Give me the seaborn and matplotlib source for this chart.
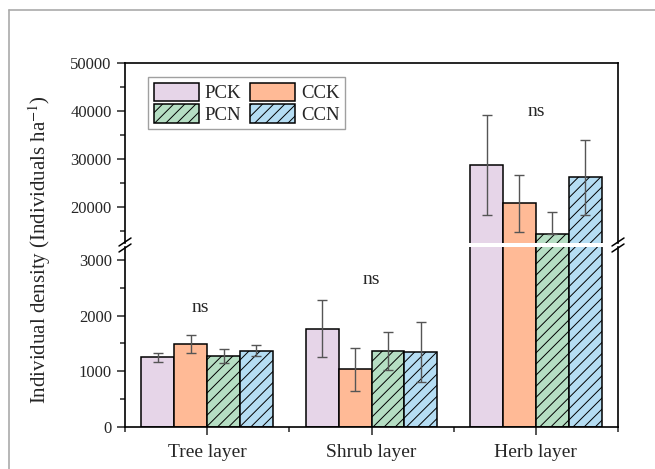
import pandas as pd
import matplotlib.pyplot as plt
import seaborn as sns
from matplotlib.patches import Patch
from matplotlib.lines import Line2D
from matplotlib.ticker import MultipleLocator

# -------------------------
# Data
# -------------------------
layers = ["Tree layer", "Shrub layer", "Herb layer"]
treatments = ["PCK", "CCK", "PCN", "CCN"]

pck_mean = [1255, 1762, 28750]
cck_mean = [1488, 1036, 20770]
pcn_mean = [1274, 1363, 14375]
ccn_mean = [1369, 1345, 26190]

pck_err_up = [80, 510, 10400]
cck_err_up = [160, 390, 6000]
pcn_err_up = [130, 340, 4580]
ccn_err_up = [100, 545, 7850]

pck_err_low = [80, 510, 10400]
cck_err_low = [160, 390, 6000]
pcn_err_low = [130, 340, 0]
ccn_err_low = [100, 545, 7850]

sig_labels = ["ns", "ns", "ns"]
sig_y = [2150, 2640, 39850]

colors = ["#E6D5E8", "#FFBA96", "#B5DEC3", "#B5DDF3"]
hatches = ["", "", "///", "///"]

means = [pck_mean, cck_mean, pcn_mean, ccn_mean]
err_up = [pck_err_up, cck_err_up, pcn_err_up, ccn_err_up]
err_low = [pck_err_low, cck_err_low, pcn_err_low, ccn_err_low]

rows = []
for t, m in zip(treatments, means):
    for layer, v in zip(layers, m):
        rows.append({"layer": layer, "treatment": t, "density": v})
df = pd.DataFrame(rows)

# -------------------------
# Style
# -------------------------
sns.set_style("ticks")
plt.rcParams["font.family"] = ["Liberation Serif", "DejaVu Serif"]
plt.rcParams["mathtext.fontset"] = "stix"
plt.rcParams["hatch.linewidth"] = 0.7
plt.rcParams["hatch.color"] = "black"

fig = plt.figure(figsize=(6.55, 4.69), dpi=100)
left, right = 125 / 655, 618 / 655
ax_top = fig.add_axes([left, 1 - 243 / 469, right - left, 180 / 469])
ax_bot = fig.add_axes([left, 1 - 427 / 469, right - left, 180 / 469])

for ax in (ax_top, ax_bot):
    sns.barplot(data=df, x="layer", y="density", hue="treatment",
                hue_order=treatments, palette=colors, saturation=1,
                errorbar=None, edgecolor="black", linewidth=1.1, width=0.8,
                gap=0, legend=False, ax=ax, zorder=2)
    for cont, h, eu, el in zip(ax.containers, hatches, err_up, err_low):
        xs = []
        ys = []
        for bar in cont:
            bar.set_hatch(h)
            xs.append(bar.get_x() + bar.get_width() / 2)
            ys.append(bar.get_height())
        ax.errorbar(xs, ys, yerr=[el, eu], fmt="none", ecolor="#555555",
                    elinewidth=1, capsize=3.5, capthick=1, zorder=3)
    ax.set_xlim(-0.5, 2.5)
    ax.set_xlabel("")
    ax.set_ylabel("")
    for s in ax.spines.values():
        s.set_linewidth(1.2)
        s.set_color("black")
    ax.tick_params(axis="y", direction="out", length=6, width=1.1,
                   labelsize=12, right=False)
    ax.tick_params(axis="y", which="minor", direction="out", length=3.5,
                   width=1.1)

# upper segment
ax_top.set_ylim(12500, 50000)
ax_top.yaxis.set_minor_locator(MultipleLocator(5000))
ax_top.set_yticks([20000, 30000, 40000, 50000])
ax_top.spines["bottom"].set_visible(False)
ax_top.tick_params(axis="x", which="both", bottom=False, labelbottom=False)

# lower segment
ax_bot.set_ylim(0, 3230)
ax_bot.set_yticks([0, 1000, 2000, 3000])
ax_bot.yaxis.set_minor_locator(MultipleLocator(500))
ax_bot.spines["top"].set_visible(False)
ax_bot.set_xticks([0, 1, 2])
ax_bot.set_xticklabels(layers)
ax_bot.set_xticks([-0.5, 0.5, 1.5, 2.5], minor=True)
ax_bot.tick_params(axis="x", which="major", direction="out", length=6,
                   width=1.1, labelsize=14, pad=6)
ax_bot.tick_params(axis="x", which="minor", direction="out", length=3.5,
                   width=1.1)

# significance labels
for i, (lab, y) in enumerate(zip(sig_labels, sig_y)):
    ax = ax_top if y > 12500 else ax_bot
    ax.text(i - 0.04 if i == 0 else i, y, lab, ha="center", va="center",
            fontsize=14)

# legend (rows: PCK CCK / PCN CCN)
handles = [Patch(facecolor=c, edgecolor="black", hatch=h, linewidth=1.1, label=t)
           for c, h, t in zip(colors, hatches, treatments)]
order = [0, 2, 1, 3]
leg = ax_top.legend(handles=[handles[i] for i in order], ncol=2,
                    loc="upper left", bbox_to_anchor=(0.047, 0.922),
                    borderaxespad=0, fontsize=13.5, frameon=True,
                    fancybox=False, handlelength=2.4, handleheight=1.15,
                    handletextpad=0.3, columnspacing=0.5, labelspacing=0.1,
                    borderpad=0.3)
leg.get_frame().set_edgecolor("#888888")
leg.get_frame().set_linewidth(1)

# axis break marks
for xpix in (125, 618):
    x0 = xpix / 655
    for off in (-3, 3):
        yc = 245 + off
        fig.add_artist(Line2D([x0 - 6 / 655, x0 + 6 / 655],
                              [1 - (yc + 4) / 469, 1 - (yc - 4) / 469],
                              transform=fig.transFigure, color="black",
                              lw=1.1))

# y label
fig.text(40 / 655, 1 - 250 / 469,
         "Individual density (Individuals ha$^{-1}$)",
         rotation=90, ha="center", va="center", fontsize=15)

# outer frame of the image
fig.add_artist(Line2D([9 / 655, 1], [1 - 10.5 / 469, 1 - 10.5 / 469],
                      transform=fig.transFigure, color="#aaaaaa", lw=1.2))
fig.add_artist(Line2D([9 / 655, 9 / 655], [0, 1 - 10.5 / 469],
                      transform=fig.transFigure, color="#aaaaaa", lw=1.2))

fig.savefig("out.png", dpi=100)
plt.close(fig)
